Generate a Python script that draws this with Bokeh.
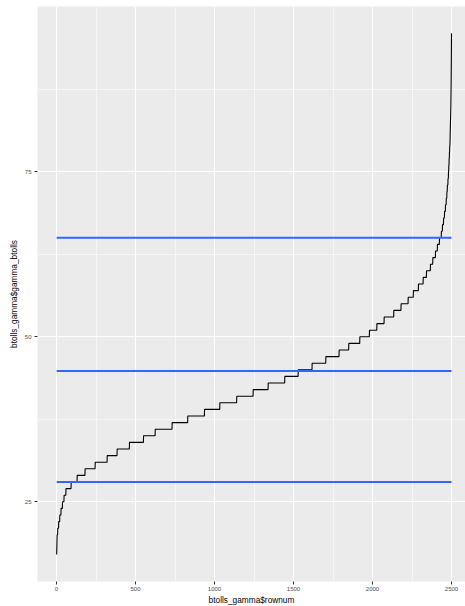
import numpy as np
from bokeh.plotting import figure
from bokeh.models import FixedTicker, Range1d
from bokeh.embed import file_html
from bokeh.resources import INLINE

# Sorted gamma tolls: integer level and the first row (rownum) at which it appears
step_values = [17, 18, 19, 20, 21, 22, 23, 24, 25, 26, 27, 28, 29, 30, 31, 32, 33, 34,
               35, 36, 37, 38, 39, 40, 41, 42, 43, 44, 45, 46, 47, 48, 49, 50, 51, 52,
               53, 54, 55, 56, 57, 58, 59, 60, 61, 62, 63, 64, 65, 66, 67, 68, 69, 70,
               71, 72, 73, 74, 75, 76, 77, 78, 79, 80, 81, 82, 83, 84, 85, 87, 89, 92, 96]
step_first_row = [1, 2, 3, 4, 8, 14, 21, 29, 38, 48, 60, 93, 131, 181, 245, 321, 384, 462,
                  551, 625, 732, 831, 937, 1034, 1141, 1245, 1340, 1445, 1530, 1618, 1705,
                  1789, 1850, 1920, 1981, 2028, 2074, 2135, 2181, 2226, 2259, 2291, 2321,
                  2342, 2367, 2382, 2399, 2411, 2424, 2436, 2443, 2450, 2456, 2462, 2467,
                  2471, 2474, 2478, 2481, 2483, 2485, 2487, 2489, 2491, 2492, 2493, 2494,
                  2495, 2496, 2497, 2498, 2499, 2500]
n_rows = 2500

# Reference horizontal lines
hline_values = [28.0, 44.8, 65.0]

# Axis ticks
x_ticks = [0, 500, 1000, 1500, 2000, 2500]
x_minor = [250, 750, 1250, 1750, 2250]
y_ticks = [25, 50, 75]
y_minor = [37.5, 62.5, 87.5]

counts = np.diff(step_first_row + [n_rows + 1])
gamma_btolls = np.repeat(step_values, counts)
rownum = np.arange(1, n_rows + 1)

p = figure(frame_width=428, frame_height=575,
           x_range=Range1d(-120.3, 2588.6), y_range=Range1d(12.92, 100.05),
           output_backend="svg", toolbar_location=None,
           min_border_left=37, min_border_right=0, min_border_top=6, min_border_bottom=25,
           background_fill_color="#EBEBEB", border_fill_color="white",
           outline_line_color=None)

xt = FixedTicker(ticks=x_ticks, minor_ticks=x_minor)
yt = FixedTicker(ticks=y_ticks, minor_ticks=y_minor)
p.xaxis.ticker = xt
p.yaxis.ticker = yt
p.xgrid.ticker = xt
p.ygrid.ticker = yt

for g in (p.xgrid, p.ygrid):
    g.grid_line_color = "white"
    g.grid_line_width = 1.1
    g.minor_grid_line_color = "white"
    g.minor_grid_line_width = 0.55

p.xaxis.axis_label = "btolls_gamma$rownum"
p.yaxis.axis_label = "btolls_gamma$gamma_btolls"
for ax in (p.xaxis, p.yaxis):
    ax.axis_line_color = None
    ax.major_tick_line_color = "#333333"
    ax.major_tick_out = 3
    ax.major_tick_in = 0
    ax.minor_tick_line_color = None
    ax.major_label_text_font = "Liberation Sans"
    ax.major_label_text_font_size = "6px"
    ax.major_label_text_color = "#4D4D4D"
    ax.axis_label_text_font = "Liberation Sans"
    ax.axis_label_text_font_size = "8.3px"
    ax.axis_label_text_font_style = "normal"
    ax.axis_label_text_color = "black"
p.xaxis.major_label_standoff = 1
p.xaxis.axis_label_standoff = 1
p.yaxis.major_label_standoff = 2
p.yaxis.axis_label_standoff = 3

p.line(rownum, gamma_btolls, line_color="black", line_width=1.1)
p.segment(x0=[rownum.min()] * len(hline_values), x1=[rownum.max()] * len(hline_values),
          y0=hline_values, y1=hline_values, line_color="#3366FF", line_width=2)

open("out.html", "w").write(file_html(p, INLINE))
